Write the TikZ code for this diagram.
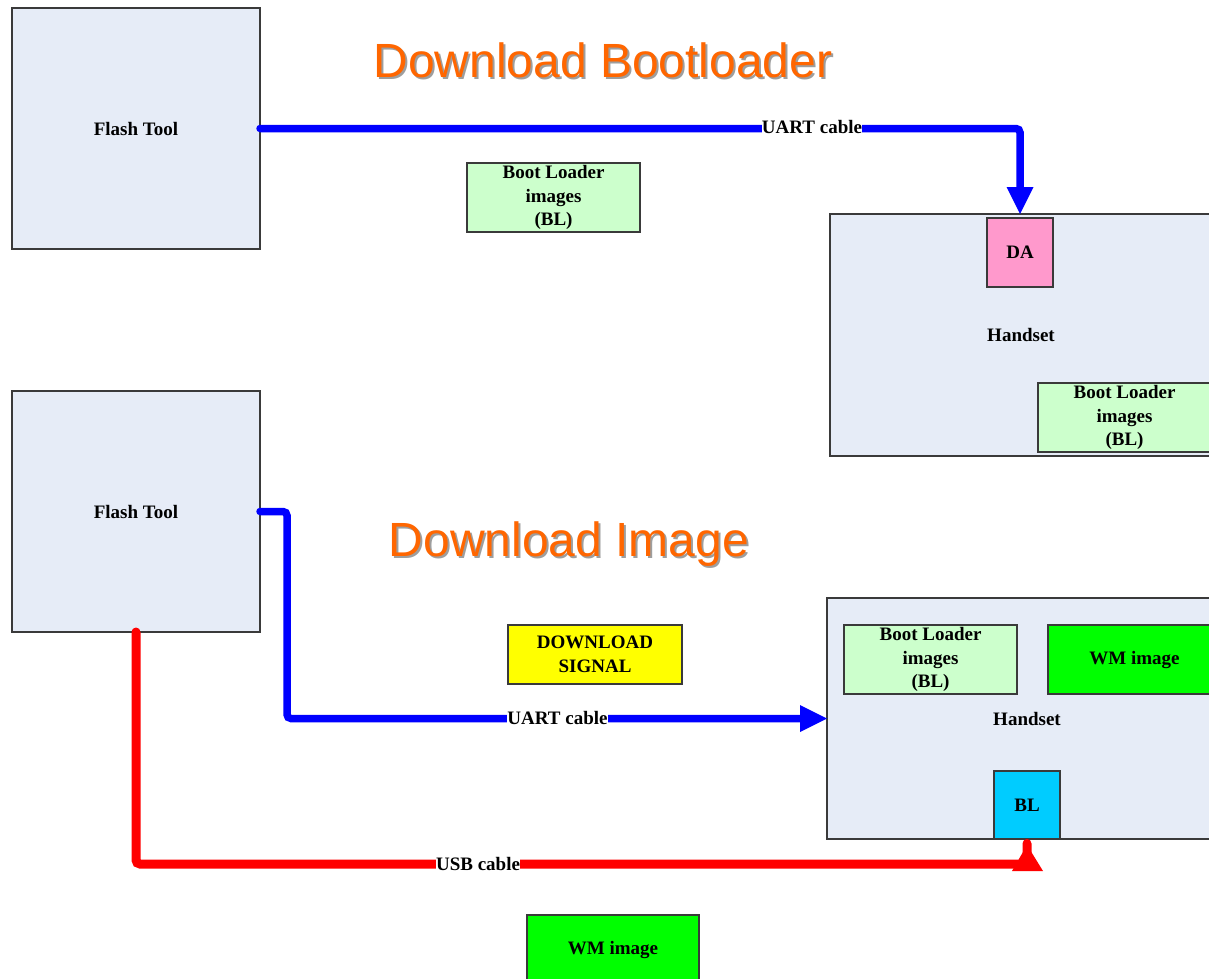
\documentclass[tikz,border=0pt]{standalone}
\usepackage{fontspec}
\setmainfont{Liberation Serif}
\newfontfamily\titlefont{Liberation Sans}
\usetikzlibrary{arrows.meta}
\definecolor{boxbg}{HTML}{E6ECF7}
\definecolor{lightgreen}{HTML}{CCFFCC}
\definecolor{dapink}{HTML}{FF99CC}
\definecolor{blcyan}{HTML}{00CCFF}
\definecolor{wmgreen}{HTML}{00FF00}
\definecolor{sigyellow}{HTML}{FFFF00}
\definecolor{titleorange}{HTML}{FF6600}
\definecolor{cableblue}{HTML}{0000FF}
\definecolor{cablered}{HTML}{FF0000}
\definecolor{edgegray}{HTML}{3A3A3A}
\tikzset{
  lbl/.style={font=\fontsize{19}{23.5}\selectfont\bfseries, align=center},
  box/.style={lbl, draw=edgegray, line width=1.2pt, inner sep=0pt, outer sep=0pt},
  bigbox/.style={box, fill=boxbg},
  blbox/.style={box, fill=lightgreen, minimum width=173pt, minimum height=69pt},
  wmbox/.style={box, fill=wmgreen, minimum width=173pt, minimum height=69pt},
  cablelabel/.style={lbl, fill=white, inner xsep=0pt, inner ysep=1pt},
  bluecable/.style={draw=cableblue, line width=7.5pt, line cap=round, rounded corners=4pt},
  redcable/.style={draw=cablered, line width=9pt, line cap=round, rounded corners=4pt},
  bluetip/.style={-{Triangle[length=27pt,width=27pt,line width=0pt]}},
  titletext/.style={font=\titlefont\fontsize{48}{50}\selectfont, inner sep=0pt},
}
\begin{document}
\begin{tikzpicture}[x=1pt,y=-1pt]
\useasboundingbox (0,0) rectangle (1209,978);
\clip (0,0) rectangle (1209,978);

% titles
\node[titletext, text=black!38] (t1s) at (605,62) {Download Bootloader};
\node[titletext, text=titleorange] (t1) at (603,60) {Download Bootloader};
\node[titletext, text=black!38] (t2s) at (571,546) {Download Image};
\node[titletext, text=titleorange] (t2) at (569,544) {Download Image};

% top section
\node[bigbox, minimum width=248pt, minimum height=241pt] (ft1) at (136,128.5) {Flash Tool};
\node[blbox] (bl1) at (553.5,197.5) {Boot Loader\\images\\(BL)};
\node[bigbox, minimum width=382pt, minimum height=242pt] (hs1) at (1021,335) {Handset};
\node[box, fill=dapink, minimum width=66pt, minimum height=69pt] (da) at (1020,252.5) {DA};
\node[blbox] (bl2) at (1124.5,417.5) {Boot Loader\\images\\(BL)};

% bottom section
\node[bigbox, minimum width=248pt, minimum height=241pt] (ft2) at (136,511.5) {Flash Tool};
\node[box, fill=sigyellow, minimum width=174pt, minimum height=59pt] (sig) at (595,654.5) {DOWNLOAD\\SIGNAL};
\node[bigbox, minimum width=400pt, minimum height=241pt] (hs2) at (1027,718.5) {Handset};
\node[blbox] (bl3) at (930.5,659.5) {Boot Loader\\images\\(BL)};
\node[wmbox] (wm1) at (1134.5,659.5) {WM image};
\node[box, fill=blcyan, minimum width=66pt, minimum height=68pt] (blb) at (1027,805) {BL};
\node[wmbox, minimum width=172pt] (wm2) at (613,949.5) {WM image};

% cables
\draw[bluecable, bluetip] (ft1.east) -| (da.north |- hs1.north);
\draw[bluecable, bluetip] (ft2.east) -- ++(27,0) |- (hs2.west);
\draw[redcable, shorten >=4.5pt] (ft2.south) |- (1027,864) -- (blb.south);
\coordinate (redtip) at (1027,845);
\fill[cablered] (1012,871) -- (redtip) -- (1043,871) -- cycle;

% cable labels
\node[cablelabel] (u1) at (812,127) {UART cable};
\node[cablelabel] (u2) at (557.5,718) {UART cable};
\node[cablelabel] (usb) at (478,864) {USB cable};
\end{tikzpicture}
\end{document}
